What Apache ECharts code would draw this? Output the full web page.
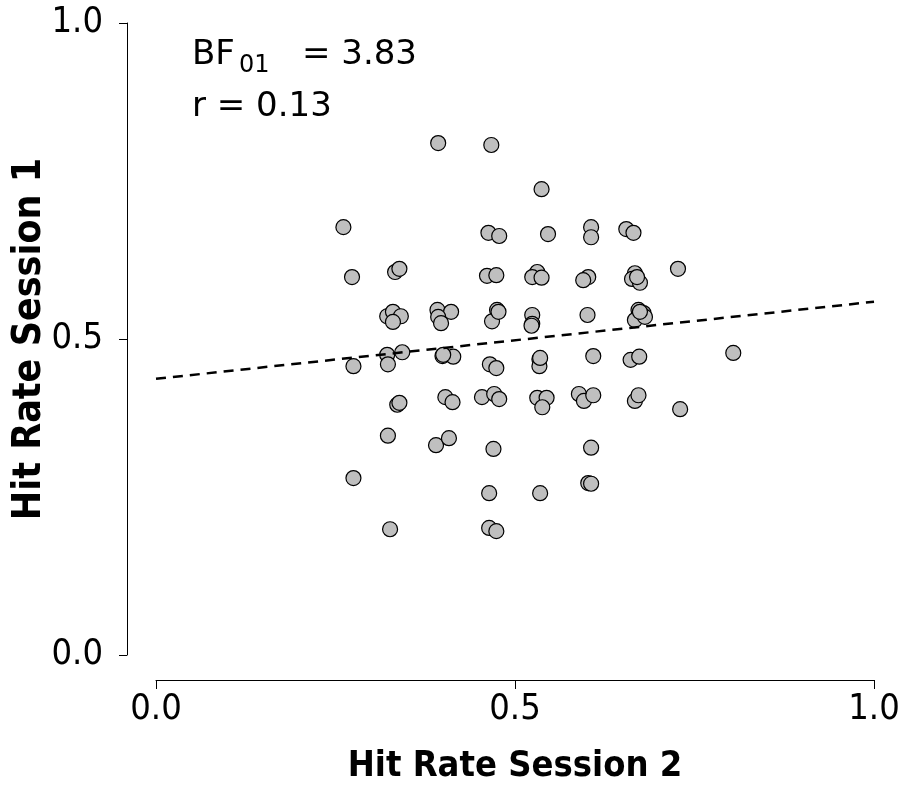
<!DOCTYPE html>
<html>
<head>
<meta charset="utf-8">
<script src="https://cdn.jsdelivr.net/npm/echarts@6/dist/echarts.min.js"></script>
<style>
  html, body { margin: 0; padding: 0; background: #fff; }
  #main { width: 907px; height: 785px; }
</style>
</head>
<body>
<div id="main"></div>
<script>
// hit rate session 2 (x) / session 1 (y)
const hitRateS2 = [
  0.261, 0.393, 0.467, 0.537, 0.463, 0.478, 0.546, 0.606, 0.606, 0.655, 0.665,
  0.273, 0.333, 0.339, 0.461, 0.474, 0.531, 0.524, 0.537, 0.602, 0.595,
  0.667, 0.663, 0.674, 0.670, 0.727,
  0.322, 0.330, 0.341, 0.330, 0.392, 0.411, 0.393, 0.397, 0.475, 0.468, 0.477,
  0.524, 0.524, 0.523, 0.601, 0.672, 0.679, 0.667, 0.681, 0.674,
  0.322, 0.323, 0.343, 0.275, 0.399, 0.414, 0.400, 0.465, 0.474, 0.534, 0.534, 0.535,
  0.609, 0.661, 0.673, 0.804,
  0.336, 0.339, 0.403, 0.413, 0.454, 0.471, 0.478, 0.531, 0.544, 0.538,
  0.589, 0.596, 0.609, 0.667, 0.672, 0.730,
  0.323, 0.390, 0.408, 0.470, 0.606, 0.275, 0.464, 0.535, 0.602, 0.606,
  0.326, 0.464, 0.474
];
const hitRateS1 = [
  0.677, 0.810, 0.807, 0.737, 0.668, 0.663, 0.666, 0.677, 0.661, 0.674, 0.668,
  0.598, 0.606, 0.611, 0.600, 0.601, 0.606, 0.598, 0.597, 0.598, 0.593,
  0.604, 0.595, 0.589, 0.598, 0.611,
  0.536, 0.543, 0.536, 0.527, 0.546, 0.543, 0.535, 0.525, 0.546, 0.528, 0.543,
  0.538, 0.524, 0.521, 0.538, 0.546, 0.541, 0.530, 0.535, 0.543,
  0.475, 0.460, 0.479, 0.457, 0.473, 0.472, 0.475, 0.460, 0.454, 0.468, 0.457, 0.470,
  0.473, 0.467, 0.472, 0.478,
  0.396, 0.399, 0.408, 0.400, 0.408, 0.413, 0.405, 0.407, 0.407, 0.392,
  0.413, 0.402, 0.411, 0.402, 0.411, 0.389,
  0.347, 0.332, 0.343, 0.326, 0.328, 0.280, 0.256, 0.256, 0.272, 0.271,
  0.199, 0.201, 0.196
];
// regression line end points
const fitX = [0, 1];
const fitY = [0.437, 0.559];
const tickLabels = ['0.0', '0.5', '1.0'];

const chart = echarts.init(document.getElementById('main'));

const tickFont = {
  fontFamily: '"DejaVu Sans Condensed", "DejaVu Sans", sans-serif',
  fontSize: 36,
  color: '#000'
};
const nameFont = (size) => ({
  fontFamily: '"DejaVu Sans Condensed", "DejaVu Sans", sans-serif',
  fontSize: size,
  fontWeight: 'bold',
  color: '#000'
});
const fmt = v => tickLabels[Math.round(v * 2)] || '';

chart.setOption({
  animation: false,
  backgroundColor: '#fff',
  grid: { left: 156, right: 33, top: 23, bottom: 130, containLabel: false, outerBoundsMode: 'none' },
  xAxis: {
    type: 'value', min: 0, max: 1, interval: 0.5,
    offset: 25,
    name: 'Hit Rate Session 2', nameLocation: 'middle', nameGap: 69,
    nameMoveOverlap: false,
    nameTextStyle: nameFont(36),
    axisLine: { show: true, onZero: false, lineStyle: { color: '#000', width: 1 } },
    axisTick: { show: true, length: 9, lineStyle: { color: '#000', width: 1 } },
    axisLabel: Object.assign({ margin: 12, formatter: fmt }, tickFont),
    splitLine: { show: false }
  },
  yAxis: {
    type: 'value', min: 0, max: 1, interval: 0.5,
    offset: 29,
    name: 'Hit Rate Session 1', nameLocation: 'middle', nameGap: 78,
    nameMoveOverlap: false,
    nameTextStyle: nameFont(39),
    axisLine: { show: true, onZero: false, lineStyle: { color: '#000', width: 1 } },
    axisTick: { show: true, length: 8, lineStyle: { color: '#000', width: 1 } },
    axisLabel: Object.assign({ margin: 24, formatter: fmt }, tickFont),
    splitLine: { show: false }
  },
  series: [
    {
      type: 'line',
      data: fitX.map((x, i) => [x, fitY[i]]),
      symbol: 'none',
      lineStyle: { color: '#000', width: 2.5, type: [10, 7] },
      z: 3
    },
    {
      type: 'scatter',
      data: hitRateS2.map((x, i) => [x, hitRateS1[i]]),
      symbol: 'circle',
      symbolSize: 15,
      itemStyle: { color: '#bfbfbf', borderColor: '#000', borderWidth: 1.2, opacity: 1 },
      z: 2
    }
  ],
  graphic: [
    { type: 'text', left: 192, top: 38,
      style: { text: 'BF', font: '34px "DejaVu Sans"', fill: '#000' } },
    { type: 'text', left: 239, top: 54,
      style: { text: '01', font: '24px "DejaVu Sans"', fill: '#000' } },
    { type: 'text', left: 302, top: 38,
      style: { text: '= 3.83', font: '34px "DejaVu Sans"', fill: '#000' } },
    { type: 'text', left: 192, top: 90,
      style: { text: 'r = 0.13', font: '34px "DejaVu Sans"', fill: '#000' } }
  ]
});
</script>
</body>
</html>
